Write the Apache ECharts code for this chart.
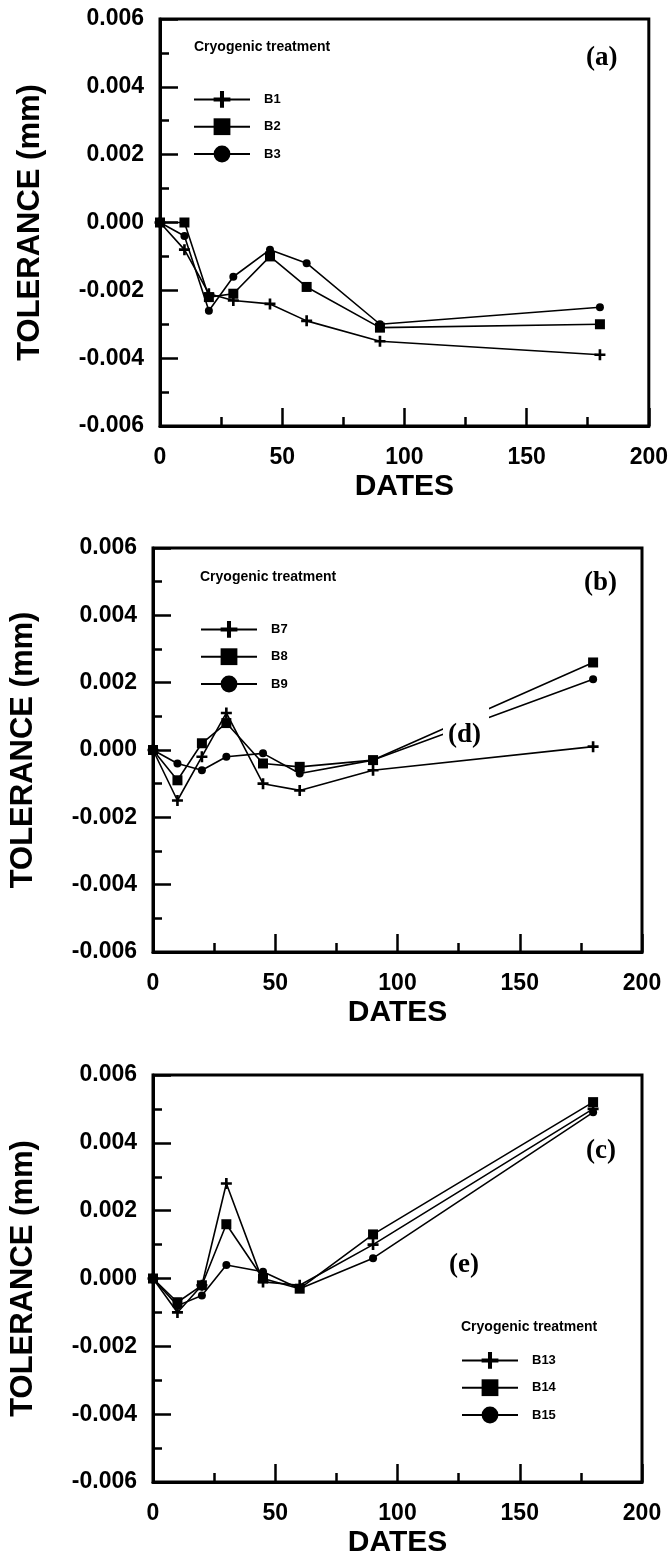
<!DOCTYPE html>
<html><head><meta charset="utf-8">
<script src="https://cdn.jsdelivr.net/npm/echarts@6/dist/echarts.min.js"></script>
<style>html,body{margin:0;padding:0;background:#fff}#c{width:671px;height:1561px}</style>
</head><body><div id="c"></div>
<script>
// ---- data ----
const days = [0, 10, 20, 30, 45, 60, 90, 180];
const xTicks = [0, 50, 100, 150, 200];
const yTicks = [-0.006, -0.004, -0.002, 0, 0.002, 0.004, 0.006];
const b1 = [0, -0.0008, -0.0021, -0.0023, -0.0024, -0.0029, -0.0035, -0.0039];
const b2 = [0, 0, -0.0022, -0.0021, -0.0010, -0.0019, -0.0031, -0.0030];
const b3 = [0, -0.0004, -0.0026, -0.0016, -0.0008, -0.0012, -0.0030, -0.0025];
const b7 = [0, -0.0015, -0.0002, 0.0011, -0.0010, -0.0012, -0.0006, 0.0001];
const b8 = [0, -0.0009, 0.0002, 0.0008, -0.0004, -0.0005, -0.0003, 0.0026];
const b9 = [0, -0.0004, -0.0006, -0.0002, -0.0001, -0.0007, -0.0003, 0.0021];
const b13 = [0, -0.0010, -0.0002, 0.0028, -0.0001, -0.0002, 0.0010, 0.0050];
const b14 = [0, -0.0007, -0.0002, 0.0016, 0.0000, -0.0003, 0.0013, 0.0052];
const b15 = [0, -0.0008, -0.0005, 0.0004, 0.0002, -0.0003, 0.0006, 0.0049];
const panels = [
  {names: ['B1', 'B2', 'B3'], vals: [b1, b2, b3], label: '(a)'},
  {names: ['B7', 'B8', 'B9'], vals: [b7, b8, b9], label: '(b)'},
  {names: ['B13', 'B14', 'B15'], vals: [b13, b14, b15], label: '(c)'}
];
const legendTitle = 'Cryogenic treatment';
const xName = 'DATES';
const yName = 'TOLERANCE (mm)';

// ---- layout ----
const grids = [
  {left: 160, top: 19, width: 490, height: 407},
  {left: 152, top: 548, width: 490, height: 404},
  {left: 152, top: 1075, width: 490, height: 407}
];
const legendPos = [
  {left: 193, top: 91},
  {left: 200, top: 621},
  {left: 461, top: 1352}
];
const legendTitlePos = [
  {left: 194, top: 40},
  {left: 200, top: 570},
  {left: 461, top: 1320}
];
const labelPos = [
  {left: 586, top: 45},
  {left: 584, top: 570},
  {left: 586, top: 1138}
];
const CROSS = 'path://M3.8,0H6.2V3.8H10V6.2H6.2V10H3.8V6.2H0V3.8H3.8Z';
const symbols = [CROSS, 'rect', 'circle'];
const symSizes = [11, 10, 8];
const SANS = '"Liberation Sans", Arial, sans-serif';
const SERIF = '"Liberation Serif", "Times New Roman", serif';

const option = {
  animation: false,
  backgroundColor: '#fff',
  grid: grids.map(g => Object.assign({show: true, borderColor: '#000', borderWidth: 3, containLabel: false}, g)),
  xAxis: grids.map((g, i) => ({
    type: 'value', gridIndex: i, min: xTicks[0], max: xTicks[xTicks.length - 1], interval: 50,
    name: xName, nameLocation: 'middle', nameGap: 46,
    nameTextStyle: {fontFamily: SANS, fontWeight: 'bold', fontSize: 30, color: '#000'},
    axisLine: {show: true, onZero: false, lineStyle: {color: '#000', width: 3}},
    axisTick: {show: true, inside: true, length: 18, lineStyle: {color: '#000', width: 2.5}},
    minorTick: {show: true, splitNumber: 2, length: 9, lineStyle: {color: '#000', width: 2.5}},
    axisLabel: {margin: 20, fontFamily: SANS, fontWeight: 'bold', fontSize: 23, color: '#000'},
    splitLine: {show: false}
  })),
  yAxis: grids.map((g, i) => ({
    type: 'value', gridIndex: i, min: yTicks[0], max: yTicks[yTicks.length - 1], interval: 0.002,
    name: yName, nameLocation: 'middle', nameGap: 114,
    nameTextStyle: {fontFamily: SANS, fontWeight: 'bold', fontSize: 31, color: '#000'},
    axisLine: {show: true, onZero: false, lineStyle: {color: '#000', width: 3}},
    axisTick: {show: true, inside: true, length: 18, lineStyle: {color: '#000', width: 2.5}},
    minorTick: {show: true, splitNumber: 2, length: 9, lineStyle: {color: '#000', width: 2.5}},
    axisLabel: {margin: 16, fontFamily: SANS, fontWeight: 'bold', fontSize: 23, color: '#000',
      formatter: v => v.toFixed(3)},
    splitLine: {show: false}
  })),
  legend: panels.map((p, i) => ({
    data: p.names, orient: 'vertical', left: legendPos[i].left, top: legendPos[i].top,
    itemWidth: 56, itemHeight: 21, itemGap: 10.5, selectedMode: false, padding: 0,
    textStyle: {fontFamily: SANS, fontWeight: 'bold', fontSize: 13, color: '#000', padding: [0, 0, 0, 9]}
  })),
  title: [].concat(
    legendTitlePos.map(p => ({text: legendTitle, left: p.left, top: p.top, padding: 0,
      textStyle: {fontFamily: SANS, fontWeight: 'bold', fontSize: 14, color: '#000'}})),
    panels.map((p, i) => ({text: p.label, left: labelPos[i].left, top: labelPos[i].top, padding: 0,
      textStyle: {fontFamily: SERIF, fontWeight: 'bold', fontSize: 27, color: '#000'}})),
    [
      {text: '(d)', left: 443, top: 707, padding: [15, 8, 6, 5], backgroundColor: '#fff',
        textStyle: {fontFamily: SERIF, fontWeight: 'bold', fontSize: 27, color: '#000'}},
      {text: '(e)', left: 449, top: 1252, padding: 0,
        textStyle: {fontFamily: SERIF, fontWeight: 'bold', fontSize: 27, color: '#000'}}
    ]
  ),
  series: []
};
panels.forEach((p, i) => {
  p.names.forEach((n, k) => {
    option.series.push({
      name: n, type: 'line', xAxisIndex: i, yAxisIndex: i,
      data: days.map((d, j) => [d, p.vals[k][j]]),
      symbol: symbols[k], symbolSize: symSizes[k], showAllSymbol: true,
      lineStyle: {color: '#000', width: 1.6},
      itemStyle: {color: '#000', borderWidth: 0},
      emphasis: {disabled: true}
    });
  });
});
const chart = echarts.init(document.getElementById('c'), null, {renderer: 'canvas'});
chart.setOption(option);
</script></body></html>
